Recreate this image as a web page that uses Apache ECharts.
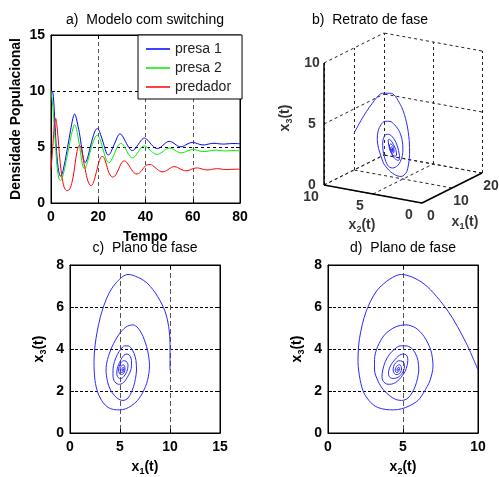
<!DOCTYPE html>
<html><head><meta charset="utf-8">
<script src="https://cdn.jsdelivr.net/npm/echarts@6/dist/echarts.min.js"></script>
<style>html,body{margin:0;padding:0;background:#fff}#c{width:499px;height:477px}</style>
</head><body><div id="c"></div>
<script>
// ---- data ----
const tempo = [0,0.5,1,1.5,2,2.5,3,3.5,4,4.5,5,5.5,6,6.5,7,7.5,8,8.5,9,9.5,
 10,10.5,11,11.5,12,12.5,13,13.5,14,14.5,15,15.5,16,16.5,17,17.5,18,18.5,19,19.5,
 20,20.5,21,21.5,22,22.5,23,23.5,24,24.5,25,25.5,26,26.5,27,27.5,28,28.5,29,29.5,
 30,30.5,31,31.5,32,32.5,33,33.5,34,34.5,35,35.5,36,36.5,37,37.5,38,38.5,39,39.5,
 40,41,42,43,44,45,46,47,48,49,50,51,52,53,54,55,56,57,58,59,60,
 61,62,63,64,65,66,67,68,69,70,71,72,73,74,75,76,77,78,79,80];
const presa1 = [10.0,10.0,9.5,7.8,5.8,4.2,3.2,2.6,2.4,2.5,
 2.8,3.3,3.8,4.35,4.95,5.55,6.15,6.75,7.3,7.75,
 7.95,7.75,7.3,6.8,6.3,5.6,4.9,4.2,3.75,3.6,
 3.75,4.05,4.45,4.9,5.3,5.7,6.05,6.35,6.55,6.65,
 6.6,6.4,6.1,5.8,5.45,5.1,4.75,4.45,4.3,4.3,
 4.4,4.6,4.85,5.1,5.35,5.6,5.85,6.05,6.15,6.15,
 6.05,5.9,5.7,5.5,5.3,5.1,4.95,4.8,4.7,4.68,
 4.72,4.82,4.95,5.1,5.25,5.4,5.55,5.68,5.76,5.8,
 5.76,
 5.6,5.35,5.1,4.92,4.86,4.92,5.08,5.27,5.43,5.5,
 5.46,5.34,5.18,5.06,5.02,5.07,5.18,5.3,5.38,5.4,
 5.37,5.3,5.23,5.19,5.19,5.23,5.28,5.32,5.33,5.32,
 5.29,5.27,5.26,5.27,5.29,5.3,5.31,5.31,5.3,5.3];
const presa2 = [10.0,9.2,8.0,6.4,4.9,3.4,2.55,2.1,2.0,2.15,
 2.4,2.85,3.3,3.85,4.35,4.9,5.45,6.0,6.4,6.8,
 7.0,6.85,6.4,5.85,5.2,4.5,3.8,3.3,3.1,3.1,
 3.35,3.7,4.1,4.5,4.9,5.25,5.55,5.8,5.97,6.05,
 6.0,5.82,5.55,5.2,4.82,4.45,4.1,3.82,3.65,3.6,
 3.65,3.8,4.0,4.25,4.5,4.75,4.97,5.15,5.27,5.32,
 5.3,5.2,5.05,4.87,4.67,4.47,4.3,4.15,4.06,4.03,
 4.06,4.15,4.28,4.43,4.6,4.76,4.9,5.01,5.08,5.1,
 5.07,
 4.93,4.72,4.52,4.38,4.34,4.4,4.53,4.7,4.84,4.9,
 4.87,4.77,4.64,4.53,4.48,4.5,4.58,4.67,4.74,4.77,
 4.75,4.7,4.64,4.6,4.59,4.61,4.65,4.69,4.71,4.71,
 4.69,4.67,4.65,4.65,4.66,4.67,4.68,4.68,4.68,4.67];
const predador = [3.0,4.3,5.8,7.1,7.55,6.9,5.8,4.5,3.4,2.5,
 1.9,1.45,1.22,1.12,1.1,1.15,1.3,1.55,1.95,2.5,
 3.2,3.95,4.6,5.0,5.15,5.05,4.7,4.1,3.5,3.0,
 2.45,2.05,1.78,1.6,1.55,1.62,1.85,2.2,2.6,3.0,
 3.45,3.8,4.05,4.15,4.15,4.0,3.75,3.4,3.0,2.7,
 2.5,2.38,2.32,2.33,2.4,2.55,2.75,2.95,3.2,3.45,
 3.62,3.72,3.76,3.74,3.65,3.5,3.35,3.18,3.0,2.85,
 2.72,2.64,2.6,2.6,2.63,2.7,2.8,2.93,3.07,3.2,
 3.32,
 3.42,3.44,3.35,3.18,3.0,2.86,2.78,2.8,2.9,3.05,
 3.18,3.25,3.22,3.12,3.0,2.92,2.88,2.9,2.97,3.06,
 3.12,3.13,3.09,3.03,2.98,2.95,2.96,3.0,3.04,3.06,
 3.06,3.03,3.0,2.99,2.99,3.0,3.01,3.02,3.02,3.01];
const seriesNames = ['presa 1','presa 2','predador'];
const titles = ['a)  Modelo com switching','b)  Retrato de fase','c)  Plano de fase','d)  Plano de fase'];
const x1Ticks = [0,10,20];
const x2Ticks = [0,5,10];
const x3Ticks = [0,5,10];

// ---- styling / layout ----
const FF = '"Liberation Sans", Arial, sans-serif';
const tickFont = {fontSize:14, fontWeight:'bold', color:'#000', fontFamily:FF};
const subRich = {s:{fontSize:9, fontWeight:'bold', fontFamily:FF, color:'#000', verticalAlign:'bottom', lineHeight:9}};
const nameStyle = {fontSize:14, fontWeight:'bold', color:'#000', fontFamily:FF, lineHeight:18, rich:subRich};

function mainAxis(grid, pos, min, max, interval, splitColor, splitType, name, gap) {
  return {type:'value', gridIndex:grid, position:pos, min:min, max:max, interval:interval,
    axisLine:{show:true, onZero:false, lineStyle:{color:'#000', width:1}},
    axisTick:{show:true, inside:true, length:4, lineStyle:{color:'#000'}},
    axisLabel:Object.assign({margin:(pos==='left'?6:7)}, tickFont),
    splitLine:{show:true, lineStyle:{color:splitColor, type:splitType, width:1}},
    name:name, nameLocation:'middle', nameGap:gap, nameRotate:(pos==='left'?90:0),
    nameTextStyle:nameStyle, z:3};
}
function boxAxis(grid, pos, min, max, interval) {
  return {type:'value', gridIndex:grid, position:pos, min:min, max:max, interval:interval,
    axisLine:{show:true, onZero:false, lineStyle:{color:'#000', width:1}},
    axisTick:{show:true, inside:true, length:4, lineStyle:{color:'#000'}},
    axisLabel:{show:false}, splitLine:{show:false}, z:3};
}

// 3D projection of (x1, x2, x3) onto the hidden plane of panel b
function proj(x1, x2, x3) { return [3*x1 - 9.8*x2, 1.5*x1 + 1.8*x2 + 12.2*x3]; }
const X1M = x1Ticks[x1Ticks.length-1], X2M = x2Ticks[x2Ticks.length-1], X3M = x3Ticks[x3Ticks.length-1];
const gridSegs = [];
x1Ticks.forEach(a => gridSegs.push([proj(a,0,0), proj(a,X2M,0)]));
x2Ticks.forEach(b => gridSegs.push([proj(0,b,0), proj(X1M,b,0)]));
x1Ticks.forEach(a => gridSegs.push([proj(a,X2M,0), proj(a,X2M,X3M)]));
x3Ticks.forEach(c => gridSegs.push([proj(0,X2M,c), proj(X1M,X2M,c)]));
x2Ticks.forEach(b => gridSegs.push([proj(X1M,b,0), proj(X1M,b,X3M)]));
x3Ticks.forEach(c => gridSegs.push([proj(X1M,0,c), proj(X1M,X2M,c)]));
const axisSegs = [
  [proj(0,X2M,0), proj(0,X2M,X3M)],
  [proj(0,X2M,0), proj(0,0,0)],
  [proj(0,0,0), proj(X1M,0,0)]
];

const ts = (arr) => tempo.map((t,i) => [t, arr[i]]);
const phase13 = presa1.map((v,i) => [v, predador[i]]);
const phase23 = presa2.map((v,i) => [v, predador[i]]);
const phase3d = presa1.map((v,i) => proj(v, presa2[i], predador[i]));

function labelSeries(data, offset, labelExtra) {
  return {type:'scatter', xAxisIndex:6, yAxisIndex:6, symbolSize:0, silent:true,
    data:data,
    label:Object.assign({show:true, position:'inside', offset:offset, formatter:p => p.value[2],
      lineHeight:18, rich:subRich}, tickFont, labelExtra||{})};
}

const chart = echarts.init(document.getElementById('c'), null, {renderer:'canvas'});
chart.setOption({
  animation:false,
  backgroundColor:'#fff',
  title: titles.map((t,i) => ({text:t, left:[145,370,145,403][i], top:[13,13,241,241][i],
    textAlign:'center', padding:0,
    textStyle:{fontSize:14, fontWeight:'normal', color:'#000', fontFamily:FF}})),
  legend:{data:seriesNames, left:138, top:35, orient:'vertical', backgroundColor:'#fff',
    borderColor:'#000', borderWidth:1, borderRadius:0, padding:[7,11,5,8],
    icon:'rect', itemGap:5, itemWidth:24, itemHeight:1.5,
    textStyle:{fontSize:14, lineHeight:14, color:'#222', fontFamily:FF}},
  grid:[
    {left:51, top:35, width:189, height:168, show:true, borderColor:'#000', borderWidth:1, backgroundColor:'#fff'},
    {left:70, top:265, width:150, height:169, show:true, borderColor:'#000', borderWidth:1, backgroundColor:'#fff'},
    {left:328, top:265, width:150, height:169, show:true, borderColor:'#000', borderWidth:1, backgroundColor:'#fff'},
    {left:300, top:20, width:190, height:200, show:false}
  ],
  xAxis:[
    mainAxis(0,'bottom',0,80,20,'#555',[4,3],'Tempo',25),
    boxAxis(0,'top',0,80,20),
    mainAxis(1,'bottom',0,15,5,'#555',[5,3],'x{s|1}(t)',25),
    boxAxis(1,'top',0,15,5),
    mainAxis(2,'bottom',0,10,5,'#555',[5,3],'x{s|2}(t)',25),
    boxAxis(2,'top',0,10,5),
    {type:'value', gridIndex:3, min:-122, max:68, show:false}
  ],
  yAxis:[
    mainAxis(0,'left',0,15,5,'#000',[3,3],'Densidade Populacional',25),
    boxAxis(0,'right',0,15,5),
    mainAxis(1,'left',0,8,2,'#000',[3,2],'x{s|3}(t)',22),
    boxAxis(1,'right',0,8,2),
    mainAxis(2,'left',0,8,2,'#000',[3,2],'x{s|3}(t)',22),
    boxAxis(2,'right',0,8,2),
    {type:'value', gridIndex:3, min:-17, max:183, show:false}
  ],
  series:[
    {name:seriesNames[0], type:'line', xAxisIndex:0, yAxisIndex:0, data:ts(presa1), showSymbol:false, symbol:'none',
     smooth:0.3, lineStyle:{color:'#0000ff', width:1}, itemStyle:{color:'#0000ff'}, z:4},
    {name:seriesNames[1], type:'line', xAxisIndex:0, yAxisIndex:0, data:ts(presa2), showSymbol:false, symbol:'none',
     smooth:0.3, lineStyle:{color:'#00ee00', width:1}, itemStyle:{color:'#00ee00'}, z:4},
    {name:seriesNames[2], type:'line', xAxisIndex:0, yAxisIndex:0, data:ts(predador), showSymbol:false, symbol:'none',
     smooth:0.3, lineStyle:{color:'#ff0000', width:1}, itemStyle:{color:'#ff0000'}, z:4},
    {type:'line', xAxisIndex:2, yAxisIndex:2, data:phase13, showSymbol:false, symbol:'none', smooth:0.3,
     lineStyle:{color:'#2a2aff', width:1}, z:4},
    {type:'line', xAxisIndex:4, yAxisIndex:4, data:phase23, showSymbol:false, symbol:'none', smooth:0.3,
     lineStyle:{color:'#2a2aff', width:1}, z:4},
    {type:'lines', coordinateSystem:'cartesian2d', xAxisIndex:6, yAxisIndex:6, silent:true,
     data:gridSegs.map(s => ({coords:s})), lineStyle:{color:'#222', type:[3,3], width:1, opacity:1}},
    {type:'lines', coordinateSystem:'cartesian2d', xAxisIndex:6, yAxisIndex:6, silent:true,
     data:axisSegs.map(s => ({coords:s})), lineStyle:{color:'#000', type:'solid', width:1.5, opacity:1}},
    {type:'line', xAxisIndex:6, yAxisIndex:6, data:phase3d, showSymbol:false, symbol:'none', smooth:0.3,
     lineStyle:{color:'#2a2aff', width:1}, z:4},
    labelSeries(x3Ticks.map(c => proj(0,X2M,c).concat([c])), [-12,0]),
    labelSeries(x2Ticks.map(b => proj(0,b,0).concat([b])), [-13,12]),
    labelSeries(x1Ticks.map(a => proj(a,0,0).concat([a])), [9,13]),
    labelSeries([proj(0,X2M,X3M/2).concat(['x{s|3}(t)'])], [6,-39], {rotate:90}),
    labelSeries([proj(0,X2M/2,0).concat(['x{s|2}(t)'])], [-11,31]),
    labelSeries([proj(X1M/2,0,0).concat(['x{s|1}(t)'])], [13,34])
  ]
});
</script>
</body></html>
